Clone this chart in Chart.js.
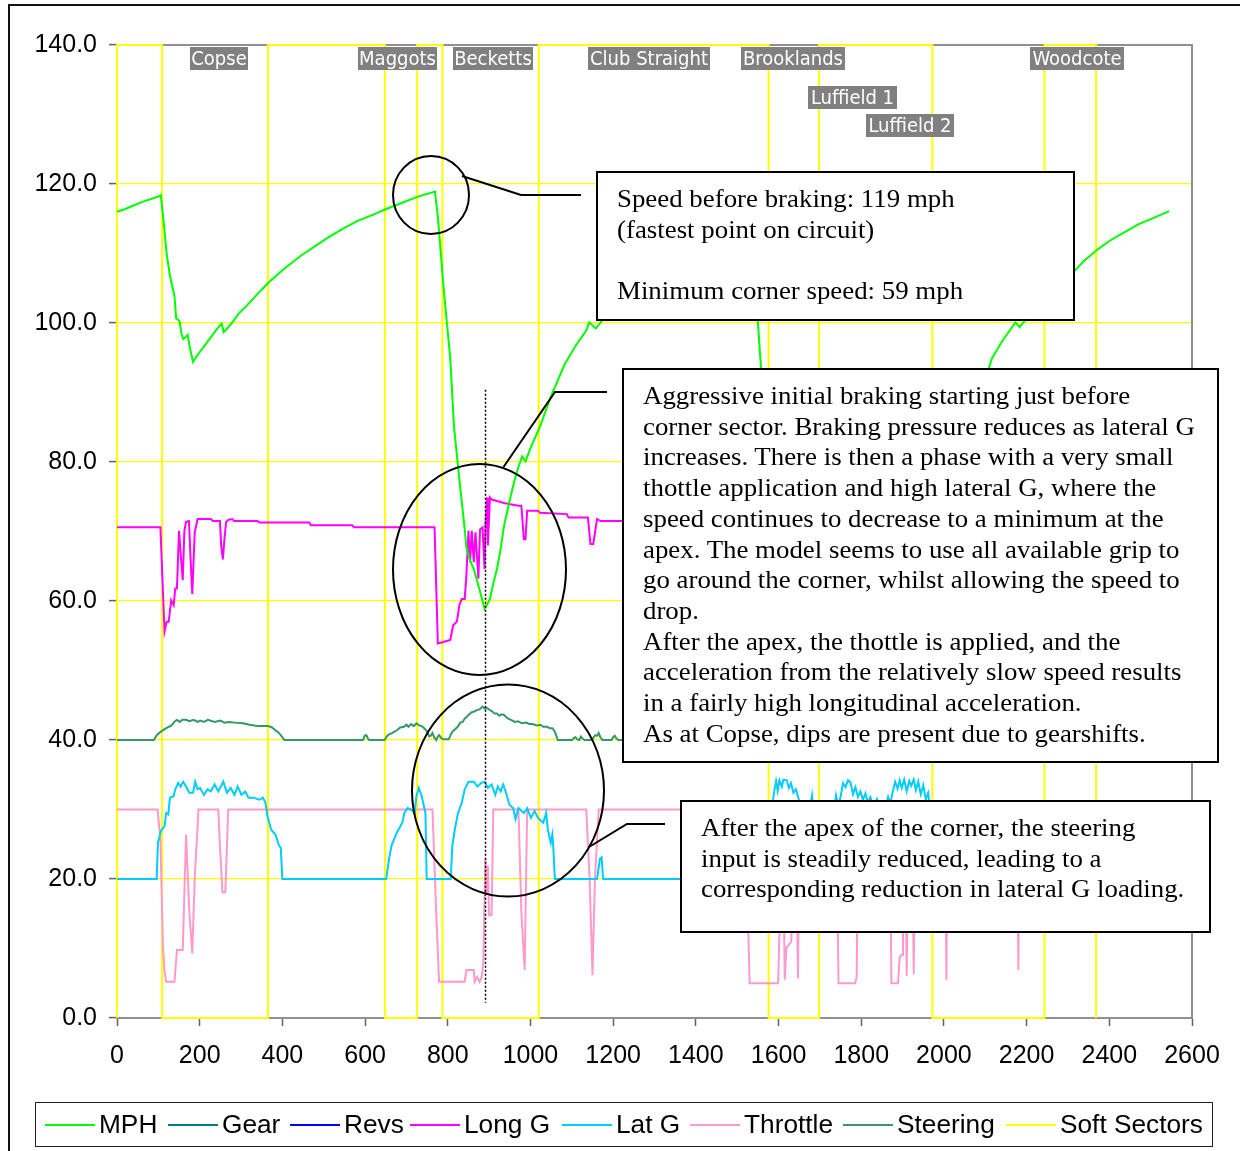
<!DOCTYPE html>
<html>
<head>
<meta charset="utf-8">
<script src="https://cdn.jsdelivr.net/npm/chart.js@4/dist/chart.umd.min.js"></script>
<style>
  html, body { margin:0; padding:0; background:#fff; }
  body { width:1240px; height:1151px; position:relative; overflow:hidden; }
  #c { position:absolute; left:0; top:0; }
  .frame { position:absolute; left:8px; top:4px; width:1300px; height:1300px; border-left:2px solid #111; border-top:2px solid #111; box-sizing:border-box; pointer-events:none; }
  .lab { position:absolute; height:23px; line-height:23px; background:#808080; color:#fff; font-family:"DejaVu Sans Condensed","DejaVu Sans",sans-serif; font-size:20px; text-align:center; white-space:nowrap; overflow:hidden; }
  .box { position:absolute; background:#fff; border:2px solid #000; box-sizing:border-box; padding:11px 0 0 19px; font-family:"Liberation Serif","Times New Roman",serif; font-size:26px; line-height:30.7px; color:#000; white-space:nowrap; }
  .box .t { display:inline-block; transform:scaleX(1.033); transform-origin:left top; }
  #legend { position:absolute; left:35px; top:1102px; width:1178px; height:45px; border:1px solid #222; box-sizing:border-box; background:#fff; }
  .li { position:absolute; top:0; height:43px; }
  .li .ln { position:absolute; top:21px; width:50px; height:2px; }
  .li .tx { position:absolute; left:54px; top:0; line-height:43px; font-family:"Liberation Sans",Arial,sans-serif; font-size:25px; color:#000; white-space:nowrap; transform:scaleX(1.05); transform-origin:left center; }
</style>
</head>
<body>
<canvas id="c" width="1240" height="1151"></canvas>
<div class="frame"></div>
<div id="labels"></div>
<div class="box" style="left:596px;top:171px;width:479px;height:150px;"><span class="t">Speed before braking: 119 mph<br>(fastest point on circuit)<br>&nbsp;<br>Minimum corner speed: 59 mph</span></div>
<div class="box" style="left:622px;top:368px;width:597px;height:395px;"><span class="t">Aggressive initial braking starting just before<br>corner sector. Braking pressure reduces as lateral G<br>increases. There is then a phase with a very small<br>thottle application and high lateral G, where the<br>speed continues to decrease to a minimum at the<br>apex. The model seems to use all available grip to<br>go around the corner, whilst allowing the speed to<br>drop.<br>After the apex, the thottle is applied, and the<br>acceleration from the relatively slow speed results<br>in a fairly high longitudinal acceleration.<br>As at Copse, dips are present due to gearshifts.</span></div>
<div class="box" style="left:680px;top:800px;width:531px;height:133px;"><span class="t">After the apex of the corner, the steering<br>input is steadily reduced, leading to a<br>corresponding reduction in lateral G loading.</span></div>
<div id="legend"></div>
<script>
// ---------------- DATA (distance, value) ----------------
const seriesNames = ['MPH','Gear','Revs','Long G','Lat G','Throttle','Steering','Soft Sectors'];
const sectorNames = ['Copse','Maggots','Becketts','Club Straight','Brooklands','Luffield 1','Luffield 2','Woodcote'];
const xTicks = [0,200,400,600,800,1000,1200,1400,1600,1800,2000,2200,2400,2600];
const yTicks = [0,20,40,60,80,100,120,140];

const mph = [[0,116.0],[20,116.4],[40,116.9],[60,117.4],[80,117.8],[100,118.2],[106,118.4],
 [112,115],[120,110],[128,106.8],[139,103.9],[143,100.7],[151,100.3],[156,98.5],[160,97.7],[166,98],[171,98.3],[176,96.5],[184,94.4],
 [195,95.4],[210,96.6],[225,97.8],[240,99.0],[253,99.9],[258,98.7],[265,99.1],[279,100.1],[295,101.4],[314,102.5],[340,104.2],[366,105.8],
 [400,107.6],[443,109.6],[480,111.1],[513,112.4],[550,113.7],[582,114.7],[620,115.6],[651,116.4],[690,117.3],[720,118],[745,118.5],[763,118.8],[769,118.9],
 [776,115.3],[790,105],[806,94.9],[815,85.1],[828,77.5],[841,70.3],[845,67.7],[853,66],[863,64.6],[876,61.8],[889,58.9],
 [895,59.5],[902,60.3],[910,62.5],[919,64.6],[928,67.5],[936,70.8],[950,74.5],[962,77.5],[972,79.5],[980,80.8],[988,80.1],[1000,82],[1023,85.1],
 [1050,89.5],[1083,94.1],[1110,96.8],[1135,98.9],[1142,100.1],[1158,99.2],[1174,100.4],
 [1220,102.6],[1280,104.6],[1350,106.3],[1420,107.6],[1480,108.4],[1530,108.8],[1540,105.5],[1550,100.1],[1556,94.9],[1570,85],[1590,76],
 [1610,71.5],[1630,70],[1650,70.5],[1680,73],[1710,75.5],[1730,74],[1760,69],[1790,67.5],[1820,68.5],[1850,66],[1880,63],[1910,61.5],
 [1940,62],[1970,64],[2000,69.5],[2040,78],[2080,88],[2116,94.9],[2140,97.3],[2173,100.1],[2183,99.4],[2199,100.6],[2230,102.8],[2270,105.2],
 [2316,107.5],[2340,109],[2372,110.6],[2400,111.8],[2435,113],[2470,114.2],[2510,115.2],[2545,116.1]];

const gear = [];   // not visible in the picture
const revs = [];   // not visible in the picture

const longG = [[0,70.6],[105,70.6],[110,63],[115,55.6],[120,57],[125,57],[131,60.1],[137,59.4],[141,61.8],[145,61.8],[150,70.1],[155,66],
 [159,63],[163,70.1],[167,71.4],[174,71.5],[178,66],[182,61],[188,69.9],[195,71.8],[227,71.8],[232,71.5],[249,71.5],[252,68],[256,66],[260,69],
 [264,71.4],[270,71.7],[279,71.8],[283,71.5],[340,71.5],[344,71.3],[465,71.3],[469,70.9],[569,70.9],[573,70.6],[768,70.6],[776,53.9],[789,54.1],
 [806,54.4],[813,56.5],[822,57],[828,59.4],[834,60.3],[841,60.3],[845,63.7],[850,70.1],[854,65.6],[858,70.1],[863,65.6],[867,69.9],[874,63.2],
 [878,70.3],[884,70.6],[889,64.6],[891,70.8],[895,74.9],[897,68],[902,74.9],[906,74.6],[919,74.4],[936,74.1],[954,73.9],[971,73.7],[978,73.7],
 [984,68.9],[988,68.9],[992,73],[1018,73],[1023,72.7],[1088,72.5],[1092,72],[1139,72],[1145,68.2],[1152,68.2],[1161,71.8],[1170,71.5],[1222,71.5],
 [1530,71.3],[1536,57],[1545,55.5],[1560,57.5],[1580,60],[1600,63],[1610,68],[1615,64],[1625,70],[1640,72.3],[1700,72.2],[1740,71.8],[1746,59],
 [1760,60],[1780,64],[1790,70.5],[1870,71],[1876,58],[1890,59],[1905,63],[1912,69],[1920,66],[1928,71],[1960,72.5],[1990,74.5],[2010,74.2],
 [2030,73.3],[2100,73],[2200,72.5],[2300,72.2],[2400,71.8],[2545,71.5]];

const latG = [[0,20],[96,20],[99,25.2],[106,26.9],[115,27.6],[119,29.5],[124,29.3],[128,31.7],[137,31.9],[141,32.9],[148,33.8],[154,33.3],[160,34],
 [167,33.3],[175,32.4],[184,32.4],[189,34],[195,32.9],[201,33.1],[210,32.1],[219,32.9],[227,32.6],[236,33.6],[245,32.6],[257,34],[266,32.4],
 [275,33.1],[284,32.1],[292,33.3],[301,32.1],[310,32.6],[318,31.7],[331,31.7],[344,31.4],[353,31.7],[359,31],[364,29],[373,27.1],[383,26.4],
 [392,24.8],[396,24.5],[400,20],[651,20],[658,22.9],[664,24.8],[677,26.7],[690,28.1],[695,29.5],[703,30.2],[711,30],[720,29.5],[724,31.9],
 [730,33.1],[737,31.9],[746,29.5],[749,20],[807,20],[811,24.8],[817,27.1],[824,29.3],[834,31],[841,32.9],[850,34],[863,34],[872,33.3],[880,33.8],
 [889,34],[897,33.1],[906,33.6],[915,32.1],[921,33.3],[928,32.6],[934,33.6],[940,32.6],[949,30.7],[958,30.2],[964,28.6],[971,30.2],[984,29.5],
 [992,30.2],[1001,28.8],[1010,29.8],[1018,28.8],[1031,28.1],[1038,29.5],[1042,27.1],[1049,25.2],[1053,26.4],[1055,24.8],[1059,20],[1161,20],
 [1168,22.9],[1172,23.1],[1176,20],[1560,20],[1572,24],[1582,29],[1587,31.5],[1590,32.8],[1594,34.1],[1598,32.7],[1602,34.2],[1608,33.3],
 [1612,34.3],[1620,34.2],[1625,33.1],[1630,33.8],[1636,32.4],[1642,32.9],[1648,31.6],[1657,30.5],[1665,28],[1672,29],[1681,32],[1686,28.5],
 [1700,25],[1715,22],[1725,26],[1734,29.5],[1739,32],[1744,30.5],[1750,31.8],[1756,33.8],[1762,33.2],[1768,34.2],[1774,33.9],[1780,32.2],
 [1786,33.2],[1792,31.8],[1798,32.6],[1804,31.4],[1810,32.3],[1816,31],[1822,31.8],[1830,30.6],[1838,31.5],[1845,29],[1855,29.5],[1865,31.8],
 [1870,30.8],[1876,32.5],[1882,34],[1888,33],[1893,34.2],[1898,33.1],[1904,34.3],[1910,32.6],[1916,34.1],[1921,33.4],[1927,34.3],[1932,32.8],
 [1938,34],[1944,32.2],[1950,33.5],[1956,31.5],[1962,32.4],[1968,29],[1978,24],[1990,20],[2220,20],[2235,24],[2250,28],[2270,29.5],[2290,28.8],
 [2310,29.6],[2330,27],[2345,22],[2355,20],[2545,20]];

const throttle = [[0,30],[98,30],[105,25.7],[111,10.5],[115,6.7],[119,5.2],[139,5.2],[145,9.8],[159,9.8],[167,26.4],[175,15.2],[182,9.3],[188,20],
 [197,30],[245,30],[249,24.8],[255,18.1],[262,18.1],[269,30],[763,30],[772,15.2],[779,5.2],[841,5.2],[845,6.9],[863,6.9],[865,5.2],[871,5.9],
 [877,5.2],[882,5.9],[886,8.1],[891,22.9],[895,18.1],[897,21.9],[900,14.8],[906,14.8],[910,30],[971,30],[978,15.2],[986,6.9],[992,30],[1135,30],
 [1143,20],[1150,6.2],[1156,20],[1165,30],[1525,30],[1527,12],[1530,5],[1599,5],[1603,14],[1607,30],[1610,30],[1615,5.5],[1619,10.1],[1623,10.4],
 [1631,11],[1636,30],[1642,30],[1647,5.7],[1651,30],[1740,30],[1745,5],[1785,5],[1789,5.9],[1793,30],[1869,30],[1873,5],[1889,5],[1893,8.8],
 [1899,9.1],[1901,30],[1906,30],[1910,6],[1914,30],[1923,30],[1927,6.3],[1931,30],[2003,30],[2006,5.5],[2009,30],[2177,30],[2180,6.9],[2183,30],[2545,30]];

const steering = [[0,40],[89,40],[96,40.7],[106,41.2],[119,41.7],[132,42.1],[140,42.7],[145,42.9],[152,42.6],[158,42.9],[167,42.9],[175,42.7],
 [185,42.9],[195,42.6],[201,42.8],[210,42.6],[220,42.9],[236,42.6],[250,42.8],[260,42.5],[271,42.6],[285,42.5],[305,42.4],[320,42.2],[340,42],
 [366,42],[375,41.8],[383,41.4],[390,41.1],[396,40.7],[405,40],[595,40],[599,40.6],[603,40.7],[607,40.2],[610,40],[647,40],[655,40.7],[665,41],
 [677,41.4],[685,41.8],[694,41.9],[700,42.2],[705,41.9],[711,42.3],[718,42],[724,42.4],[731,42.1],[737,42],[743,41.7],[748,41.4],[752,41],
 [755,40.5],[759,40.6],[763,41],[767,40.4],[772,40],[776,40.5],[779,40.7],[784,40.3],[789,40.1],[802,40.1],[806,40.6],[811,41.2],[817,41.5],
 [824,41.9],[830,42.5],[836,42.6],[841,43.1],[846,43.3],[850,43.6],[858,44],[864,44.1],[870,44.3],[877,44.4],[884,44.8],[890,44.5],[895,44.6],
 [902,44.3],[908,44.1],[913,43.8],[919,43.8],[925,43.5],[930,43.7],[936,43.6],[945,43.1],[953,42.9],[962,42.6],[970,42.7],[980,42.4],[990,42.5],
 [997,42.3],[1005,42.3],[1015,42.1],[1024,42.2],[1031,41.9],[1040,41.9],[1047,41.7],[1053,41.7],[1058,41.3],[1062,40.7],[1066,40],[1101,40],
 [1105,40.3],[1109,40.4],[1113,40.1],[1118,40],[1122,40.5],[1126,40.2],[1131,40],[1148,40],[1153,40.4],[1157,40.7],[1161,40.6],[1165,41],
 [1169,40.4],[1174,40],[1196,40],[1200,40.4],[1204,40.6],[1208,40.2],[1213,40],[1530,40],[1545,41],[1560,42.5],[1580,43.2],[1600,43.5],
 [1630,43],[1655,42],[1670,40.5],[1690,40],[1735,40],[1745,41.5],[1760,43],[1790,43.2],[1820,42.8],[1840,41.5],[1855,41],[1870,42.5],
 [1890,43.4],[1920,43.6],[1950,43],[1970,41.5],[1985,40],[2220,40],[2235,41],[2260,42],[2300,42.2],[2335,41.2],[2350,40],[2545,40]];

const softSectors = [[0,0],[0,140],[109,140],[109,0],[365,0],[365,140],[648,140],[648,0],[726,0],[726,140],[787,140],[787,0],[1020,0],[1020,140],
 [1576,140],[1576,0],[1698,0],[1698,140],[1972,140],[1972,0],[2243,0],[2243,140],[2368,140],[2368,0]];

// ---------------- LAYOUT / STYLE ----------------
const colors = ['#00FF00','#008080','#0000FF','#FF00FF','#00CCFF','#FF99CC','#339966','#FFFF00'];
const allData = [mph, gear, revs, longG, latG, throttle, steering, softSectors];
const labelBoxes = [[190,47,58],[358,47,79],[453,47,80],[588,47,122],[741,47,104],[808,86,89],[866,114,88],[1030,47,94]];
const legendX = [45,168,290,410,562,690,843,1006];

const toPts = arr => arr.map(p => ({x:p[0], y:p[1]}));

const datasets = seriesNames.map((n,i) => ({
  label: n,
  data: toPts(allData[i]),
  borderColor: colors[i],
  backgroundColor: colors[i],
  borderWidth: 2,
  pointRadius: 0,
  tension: 0,
  fill: false,
  clip: n === 'Soft Sectors' ? false : 2,
  order: n === 'Soft Sectors' ? 10 : (n === 'MPH' ? 0 : 1)
}));

const F = '"Liberation Sans", Arial, sans-serif';

const plotFrame = {
  id: 'plotFrame',
  beforeDatasetsDraw(chart) {
    const a = chart.chartArea, ctx = chart.ctx;
    ctx.save();
    ctx.strokeStyle = '#909090';
    ctx.lineWidth = 2;
    ctx.strokeRect(a.left, a.top, a.right - a.left, a.bottom - a.top);
    ctx.restore();
  }
};

const annot = {
  id: 'annot',
  afterDraw(chart) {
    const ctx = chart.ctx, xs = chart.scales.x, ys = chart.scales.y;
    ctx.save();
    ctx.strokeStyle = '#000';
    ctx.lineWidth = 2;
    const ell = [[431,195,38,39],[479.5,569.5,86.5,105.5],[508,790.5,96,106]];
    ell.forEach(e => { ctx.beginPath(); ctx.ellipse(e[0], e[1], e[2], e[3], 0, 0, Math.PI*2); ctx.stroke(); });
    const leaders = [[[462,176],[521,195],[581,195]],[[503.5,467],[555,392],[607,392]],[[589,847],[627,824],[665,824]]];
    leaders.forEach(l => { ctx.beginPath(); ctx.moveTo(l[0][0],l[0][1]); for (let k=1;k<l.length;k++) ctx.lineTo(l[k][0],l[k][1]); ctx.stroke(); });
    // dotted apex marker
    ctx.lineWidth = 1.5;
    ctx.setLineDash([2,2]);
    const px = Math.round(xs.getPixelForValue(889)) + 0.5;
    ctx.beginPath();
    ctx.moveTo(px, ys.getPixelForValue(90.4));
    ctx.lineTo(px, ys.getPixelForValue(2.2));
    ctx.stroke();
    ctx.restore();
  }
};

new Chart(document.getElementById('c'), {
  type: 'line',
  data: { datasets },
  options: {
    responsive: false,
    animation: false,
    devicePixelRatio: 1,
    layout: { padding: { left: 0, top: 45, right: 48, bottom: 0 } },
    plugins: { legend: { display: false }, tooltip: { enabled: false } },
    scales: {
      x: {
        type: 'linear', min: 0, max: 2600,
        afterBuildTicks: s => { s.ticks = xTicks.map(v => ({value: v})); },
        afterFit: s => { s.height = 133; },
        ticks: { font: { family: F, size: 25 }, color: '#000', padding: 15, maxRotation: 0, autoSkip: false, callback: v => String(v) },
        grid: { drawOnChartArea: false, drawTicks: true, tickLength: 8, tickColor: '#606060', tickWidth: 1.5 },
        border: { color: '#808080', width: 2 }
      },
      y: {
        type: 'linear', min: 0, max: 140,
        afterBuildTicks: s => { s.ticks = yTicks.map(v => ({value: v})); },
        afterFit: s => { s.width = 117; },
        ticks: { font: { family: F, size: 25 }, color: '#000', padding: 12, callback: v => Number(v).toFixed(1) },
        grid: { color: '#FFFF00', lineWidth: 1.2, drawTicks: true, tickLength: 8, tickColor: '#606060', tickWidth: 1.5 },
        border: { color: '#808080', width: 2 }
      }
    }
  },
  plugins: [plotFrame, annot]
});

// sector name tags
const labHost = document.getElementById('labels');
sectorNames.forEach((n,i) => {
  const d = document.createElement('div');
  d.className = 'lab';
  d.textContent = n;
  d.style.left = labelBoxes[i][0] + 'px';
  d.style.top = labelBoxes[i][1] + 'px';
  d.style.width = labelBoxes[i][2] + 'px';
  labHost.appendChild(d);
});

// legend
const lg = document.getElementById('legend');
seriesNames.forEach((n,i) => {
  const it = document.createElement('div');
  it.className = 'li';
  it.style.left = (legendX[i] - 36) + 'px';
  it.innerHTML = '<div class="ln" style="background:' + colors[i] + '"></div><div class="tx">' + n + '</div>';
  lg.appendChild(it);
});
</script>
</body>
</html>
